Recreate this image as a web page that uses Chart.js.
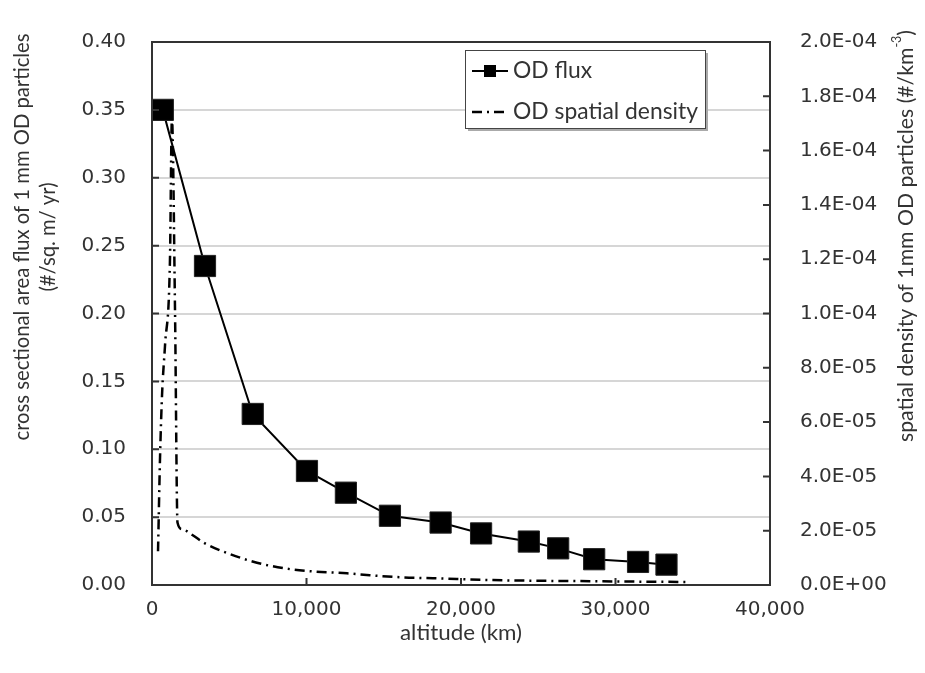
<!DOCTYPE html>
<html>
<head>
<meta charset="utf-8">
<script src="https://cdn.jsdelivr.net/npm/chart.js@4.4.0/dist/chart.umd.min.js"></script>
<style>
  html, body { margin: 0; padding: 0; background: #fff; }
</style>
</head>
<body>
<canvas id="myChart" width="925" height="673"></canvas>
<script>
// OD flux (left axis)
const fluxAltitude = [700, 3430, 6520, 10030, 12550, 15400, 18680, 21300, 24390, 26290, 28620, 31460, 33300];
const fluxValues = [0.350, 0.235, 0.126, 0.084, 0.068, 0.051, 0.046, 0.038, 0.032, 0.027, 0.019, 0.017, 0.015];

// OD spatial density (right axis)
const densityAltitude = [390, 520, 650, 840, 1160, 1290, 1490, 1650, 1940, 2590, 3430, 5050, 6790, 8730, 10420, 12620, 14100, 16240, 18180, 22060, 28340, 34600];
const densityValues = [1.24e-5, 4.7e-5, 7.0e-5, 8.8e-5, 1.19e-4, 1.72e-4, 1.01e-4, 2.3e-5, 2.06e-5, 1.85e-5, 1.53e-5, 1.14e-5, 8.2e-6, 6.0e-6, 5.0e-6, 4.3e-6, 3.6e-6, 2.8e-6, 2.5e-6, 1.8e-6, 1.4e-6, 1.1e-6];

const xTicks = [0, 10000, 20000, 30000, 40000];
const leftTicks = [0, 0.05, 0.10, 0.15, 0.20, 0.25, 0.30, 0.35, 0.40];
const rightTicks = [0, 2e-5, 4e-5, 6e-5, 8e-5, 1e-4, 1.2e-4, 1.4e-4, 1.6e-4, 1.8e-4, 2e-4];

const textColor = '#333';
const titleFont = 'Lato';
const tickFont = { family: 'DejaVu Sans', size: 20 };

function sci(v) {
  if (v === 0) return '0.0E+00';
  const e = Math.floor(Math.log10(v) + 1e-9);
  const m = v / Math.pow(10, e);
  const sign = e < 0 ? '-' : '+';
  const abs = Math.abs(e);
  return m.toFixed(1) + 'E' + sign + (abs < 10 ? '0' + abs : abs);
}

function withCommas(v) {
  return String(v).replace(/\B(?=(\d{3})+(?!\d))/g, ',');
}

// squeeze a line of text horizontally so it spans a given width (Calibri-ish look)
function squeeze(ctx, text, size, width) {
  ctx.font = size + 'px ' + titleFont;
  return width / ctx.measureText(text).width;
}

const decorPlugin = {
  id: 'decor',
  afterDraw(chart) {
    const ctx = chart.ctx;
    const a = chart.chartArea;
    const sx = chart.scales.x, sy = chart.scales.y, sy2 = chart.scales.y2;
    ctx.save();

    // frame
    ctx.strokeStyle = '#333';
    ctx.lineWidth = 2;
    ctx.strokeRect(a.left, a.top, a.right - a.left, a.bottom - a.top);

    // inward tick marks
    ctx.beginPath();
    sy.ticks.forEach(t => {
      const p = sy.getPixelForValue(t.value);
      ctx.moveTo(a.left, p); ctx.lineTo(a.left + 7, p);
    });
    sy2.ticks.forEach(t => {
      const p = sy2.getPixelForValue(t.value);
      ctx.moveTo(a.right, p); ctx.lineTo(a.right - 7, p);
    });
    sx.ticks.forEach(t => {
      const p = sx.getPixelForValue(t.value);
      ctx.moveTo(p, a.bottom); ctx.lineTo(p, a.bottom - 7);
    });
    ctx.stroke();

    // axis titles
    ctx.fillStyle = textColor;
    ctx.textBaseline = 'middle';
    ctx.textAlign = 'center';

    let k = squeeze(ctx, 'altitude (km)', 22, 122);
    ctx.save();
    ctx.translate((a.left + a.right) / 2, 633);
    ctx.scale(k, 1);
    ctx.fillText('altitude (km)', 0, 0);
    ctx.restore();

    const l1 = 'cross sectional area flux of 1 mm OD particles';
    k = squeeze(ctx, l1, 22, 407);
    ctx.save();
    ctx.translate(22, 237);
    ctx.rotate(-Math.PI / 2);
    ctx.scale(k, 1);
    ctx.fillText(l1, 0, 0);
    ctx.fillText('(#/sq. m/ yr)', 0, 26);
    ctx.restore();

    const p1 = 'spatial density of 1mm OD particles (#/km';
    const p2 = '-3';
    const p3 = ')';
    ctx.font = '22px ' + titleFont;
    const w1 = ctx.measureText(p1).width;
    const w3 = ctx.measureText(p3).width;
    ctx.font = '13px ' + titleFont;
    const w2 = ctx.measureText(p2).width;
    const total = w1 + w2 + w3;
    k = 412 / total;
    ctx.save();
    ctx.translate(906, 236);
    ctx.rotate(-Math.PI / 2);
    ctx.scale(k, 1);
    let x0 = -total / 2;
    ctx.textAlign = 'left';
    ctx.font = '22px ' + titleFont;
    ctx.fillText(p1, x0, 0);
    ctx.font = '13px ' + titleFont;
    ctx.fillText(p2, x0 + w1, -9);
    ctx.font = '22px ' + titleFont;
    ctx.fillText(p3, x0 + w1 + w2, 0);
    ctx.restore();

    // legend
    const lx = 465, ly = 50, lw = 240, lh = 78;
    ctx.fillStyle = '#aaa';
    ctx.fillRect(lx + 3, ly + 3, lw, lh);
    ctx.fillStyle = '#fff';
    ctx.fillRect(lx, ly, lw, lh);
    ctx.strokeStyle = '#444';
    ctx.lineWidth = 1;
    ctx.strokeRect(lx + 0.5, ly + 0.5, lw, lh);

    const ds = chart.data.datasets;
    // flux sample
    ctx.strokeStyle = ds[0].borderColor;
    ctx.lineWidth = ds[0].borderWidth;
    ctx.beginPath();
    ctx.moveTo(472, 71); ctx.lineTo(508, 71);
    ctx.stroke();
    ctx.fillStyle = ds[0].pointBackgroundColor;
    ctx.fillRect(484, 65, 12, 12);
    // density sample
    ctx.strokeStyle = ds[1].borderColor;
    ctx.lineWidth = ds[1].borderWidth;
    ctx.setLineDash(ds[1].borderDash);
    ctx.beginPath();
    ctx.moveTo(472, 112); ctx.lineTo(508, 112);
    ctx.stroke();
    ctx.setLineDash([]);

    ctx.fillStyle = textColor;
    ctx.textAlign = 'left';
    k = squeeze(ctx, ds[1].label, 23, 185);
    ctx.save();
    ctx.translate(513, 0);
    ctx.scale(k, 1);
    ctx.fillText(ds[0].label, 0, 71);
    ctx.fillText(ds[1].label, 0, 112);
    ctx.restore();

    ctx.restore();
  }
};

const ctx = document.getElementById('myChart').getContext('2d');
const chart = new Chart(ctx, {
  type: 'scatter',
  data: {
    datasets: [
      {
        label: 'OD flux',
        data: fluxAltitude.map((a, i) => ({ x: a, y: fluxValues[i] })),
        yAxisID: 'y',
        showLine: true,
        borderColor: '#000',
        borderWidth: 2,
        pointStyle: 'rect',
        pointRadius: 15,
        pointBackgroundColor: '#000',
        pointBorderColor: '#222',
        pointBorderWidth: 1,
        clip: false,
        order: 0
      },
      {
        label: 'OD spatial density',
        data: densityAltitude.map((a, i) => ({ x: a, y: densityValues[i] })),
        yAxisID: 'y2',
        showLine: true,
        borderColor: '#000',
        borderWidth: 2.5,
        borderDash: [10, 5, 2, 5],
        pointRadius: 0,
        cubicInterpolationMode: 'monotone',
        order: 1
      }
    ]
  },
  options: {
    responsive: false,
    animation: false,
    layout: { padding: { top: 21, left: 0, right: 0, bottom: 0 } },
    plugins: {
      legend: { display: false },
      tooltip: { enabled: false }
    },
    scales: {
      x: {
        type: 'linear',
        min: 0,
        max: 40000,
        afterBuildTicks: s => { s.ticks = xTicks.map(v => ({ value: v })); },
        afterFit: s => { s.height = 88; },
        grid: { display: false },
        border: { display: false },
        ticks: {
          padding: 5,
          color: textColor,
          font: tickFont,
          maxRotation: 0,
          callback: v => withCommas(v)
        }
      },
      y: {
        position: 'left',
        min: 0,
        max: 0.4,
        afterBuildTicks: s => { s.ticks = leftTicks.map(v => ({ value: v })); },
        afterFit: s => { s.width = 152; },
        grid: { color: '#d6d6d6', lineWidth: 2, drawTicks: false },
        border: { display: false },
        ticks: {
          padding: 26,
          color: textColor,
          font: tickFont,
          callback: v => v.toFixed(2)
        }
      },
      y2: {
        position: 'right',
        min: 0,
        max: 2e-4,
        afterBuildTicks: s => { s.ticks = rightTicks.map(v => ({ value: v })); },
        afterFit: s => { s.width = 155; },
        grid: { display: false, drawTicks: false },
        border: { display: false },
        ticks: {
          padding: 30,
          color: textColor,
          font: tickFont,
          callback: v => sci(v)
        }
      }
    }
  },
  plugins: [decorPlugin]
});
</script>
</body>
</html>
